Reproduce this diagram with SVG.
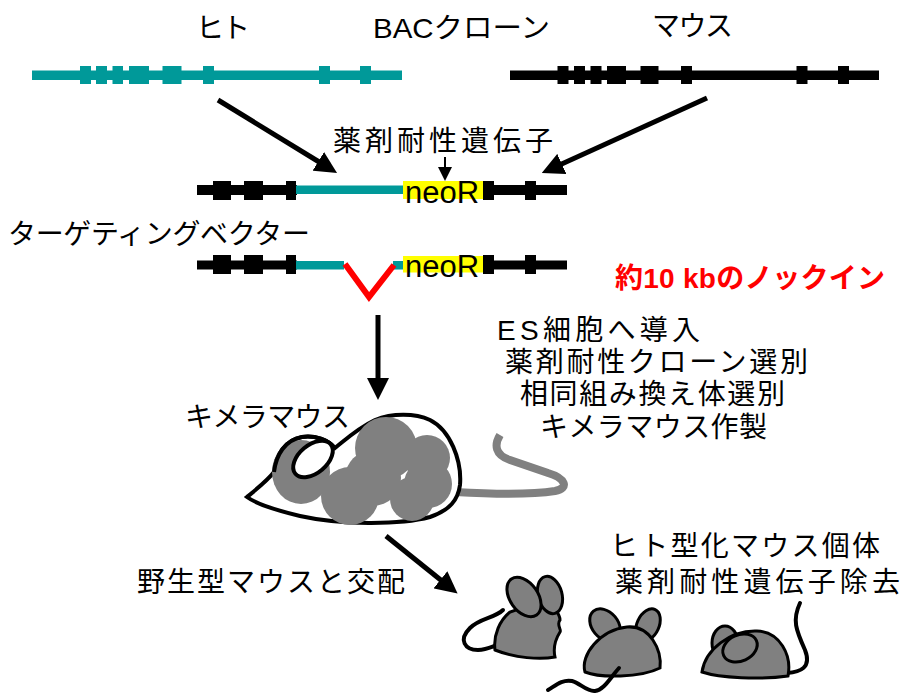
<svg xmlns="http://www.w3.org/2000/svg" width="902" height="696" viewBox="0 0 902 696">
  <defs>
    <style>
      .jp { font-family: "Liberation Sans", "Noto Sans CJK JP", sans-serif; font-size: 28px; fill: #000; }
      .neo { font-family: "Liberation Sans", Arial, sans-serif; font-size: 31px; fill: #000; }
      .red { font-family: "Liberation Sans", "Noto Sans CJK JP", sans-serif; font-size: 28px; font-weight: bold; fill: #ff0000; }
      .teal { fill: #009999; }
      .blk { fill: #000; }
      .arrow { stroke: #000; stroke-width: 5; fill: none; }
      .mouse { fill: #808080; stroke: #000; stroke-width: 3; }
      .tail { fill: none; stroke: #000; stroke-width: 4; stroke-linecap: round; }
    </style>
    <marker id="head" viewBox="0 0 22 22" markerWidth="22" markerHeight="22" refX="2" refY="11" orient="auto" markerUnits="userSpaceOnUse">
      <path d="M0,0 L22,11 L0,22 z" fill="#000"/>
    </marker>
    <marker id="headSmall" viewBox="0 0 16 14" markerWidth="16" markerHeight="14" refX="1" refY="7" orient="auto" markerUnits="userSpaceOnUse">
      <path d="M0,0 L14,7 L0,14 z" fill="#000"/>
    </marker>
  </defs>

  <rect width="902" height="696" fill="#fff"/>

  <!-- labels above the BAC clones -->
  <g id="label-human"><text class="jp" x="196" y="38" textLength="54">ヒト</text></g>
  <g id="label-bac"><text class="jp" x="373" y="38" textLength="177" lengthAdjust="spacingAndGlyphs">BACクローン</text></g>
  <g id="label-mouse"><text class="jp" x="652" y="36" textLength="81">マウス</text></g>

  <!-- human BAC clone -->
  <g id="human-bac" class="teal">
    <rect x="32" y="70.5" width="370" height="9.5"/>
    <rect x="80" y="66" width="11" height="18"/>
    <rect x="96" y="66" width="11" height="18"/>
    <rect x="112.5" y="66" width="10.5" height="18"/>
    <rect x="129" y="66" width="20" height="18"/>
    <rect x="162.5" y="66" width="19" height="18"/>
    <rect x="203" y="66" width="11" height="18"/>
    <rect x="319" y="66" width="11" height="18"/>
    <rect x="360" y="66" width="11" height="18"/>
  </g>

  <!-- mouse BAC clone -->
  <g id="mouse-bac" class="blk">
    <rect x="510" y="70.5" width="369" height="9.5"/>
    <rect x="557.5" y="66" width="11" height="18"/>
    <rect x="574" y="66" width="11" height="18"/>
    <rect x="590.5" y="66" width="11" height="18"/>
    <rect x="607" y="66" width="19" height="18"/>
    <rect x="640.5" y="66" width="18" height="18"/>
    <rect x="681" y="66" width="11" height="18"/>
    <rect x="796.5" y="66" width="11" height="18"/>
    <rect x="838" y="66" width="11" height="18"/>
  </g>

  <!-- drug resistance gene label -->
  <g id="label-resist"><text class="jp" x="333" y="151" textLength="220">薬剤耐性遺伝子</text></g>

  <!-- targeting vector before deletion -->
  <g id="vector-1">
    <rect class="blk" x="197" y="185" width="100" height="10"/>
    <rect class="blk" x="403" y="185" width="164" height="10"/>
    <rect class="teal" x="296" y="185.5" width="107" height="8.5"/>
    <rect class="blk" x="213" y="181" width="18" height="19"/>
    <rect class="blk" x="244" y="181" width="19" height="19"/>
    <rect class="blk" x="286" y="181" width="10" height="19"/>
    <rect class="blk" x="483" y="181" width="11" height="19"/>
    <rect class="blk" x="525" y="181" width="11" height="19"/>
    <rect x="403" y="181" width="80" height="18" fill="#ffff00"/>
    <text class="neo" x="405" y="203">neoR</text>
  </g>

  <g id="label-targeting"><text class="jp" x="8" y="244" textLength="302">ターゲティングベクター</text></g>

  <!-- targeting vector with deleted region -->
  <g id="vector-2">
    <rect class="blk" x="197" y="260.5" width="100" height="9"/>
    <rect class="blk" x="403" y="260.5" width="164" height="9"/>
    <rect class="teal" x="296" y="261" width="48" height="8.5"/>
    <rect class="teal" x="393" y="261" width="10" height="8.5"/>
    <rect class="blk" x="213" y="255" width="18" height="19"/>
    <rect class="blk" x="244" y="255" width="19" height="19"/>
    <rect class="blk" x="286" y="255" width="10" height="19"/>
    <rect class="blk" x="483" y="255" width="11" height="19"/>
    <rect class="blk" x="525" y="255" width="11" height="19"/>
    <rect x="403" y="256" width="80" height="16.5" fill="#ffff00"/>
    <text class="neo" x="405" y="277">neoR</text>
    <path d="M345,264 L369,297 L394,265" fill="none" stroke="#ff0000" stroke-width="6"/>
  </g>

  <g id="label-knockin"><text class="red" x="615" y="288" textLength="270">約10 kbのノックイン</text></g>

  <!-- procedure steps -->
  <g id="label-steps">
    <text class="jp" x="497" y="340" textLength="203">ES細胞へ導入</text>
    <text class="jp" x="505" y="372" textLength="303">薬剤耐性クローン選別</text>
    <text class="jp" x="520" y="404" textLength="265">相同組み換え体選別</text>
    <text class="jp" x="540" y="437" textLength="227">キメラマウス作製</text>
  </g>

  <g id="label-chimera"><text class="jp" x="185" y="427" textLength="165">キメラマウス</text></g>

  <!-- chimeric mouse -->
  <g id="chimera">
    <path d="M455,492 C490,494 530,495 555,491 C570,488 565,478 548,473 L510,460 C495,455 494,445 500,435" fill="none" stroke="#808080" stroke-width="8"/>
    <path d="M247,497 C258,488 268,480 274,472 C276,455 285,440 302,437 C315,435 328,440 335,448 C345,440 358,428 375,420 C392,413 415,413 430,420 C450,430 462,460 460,485 C458,500 450,510 430,517 C400,525 340,525 300,516 C275,510 255,503 247,497 Z" fill="#fff" stroke="#000" stroke-width="4"/>
    <g fill="#808080">
      <ellipse cx="301" cy="472" rx="29" ry="32"/>
      <circle cx="386" cy="448" r="31"/>
      <circle cx="427" cy="458" r="23"/>
      <circle cx="428" cy="484" r="24"/>
      <circle cx="412" cy="499" r="22"/>
      <circle cx="350" cy="496" r="29"/>
      <circle cx="373" cy="478" r="28"/>
    </g>
    <path d="M274,472 C276,455 285,440 302,437 C315,435 328,440 335,448" fill="none" stroke="#000" stroke-width="4"/>
    <ellipse cx="313" cy="459" rx="23" ry="14" transform="rotate(-40 313 459)" fill="#fff" stroke="#000" stroke-width="4"/>
  </g>

  <g id="label-cross"><text class="jp" x="137" y="592" textLength="268">野生型マウスと交配</text></g>
  <g id="label-humanized">
    <text class="jp" x="610" y="556" textLength="270">ヒト型化マウス個体</text>
    <text class="jp" x="615" y="592" textLength="285">薬剤耐性遺伝子除去</text>
  </g>

  <!-- offspring mice -->
  <g id="mouse-1">
    <path class="tail" d="M503,610 C495,618 480,618 470,628 C458,640 465,650 478,650 C488,650 495,645 498,645"/>
    <path class="mouse" d="M495,650 C493,635 500,620 510,612 L545,600 C555,608 560,615 560,620 C556,625 562,630 560,632 C555,640 553,648 555,657 C540,660 515,658 495,650 Z"/>
    <ellipse class="mouse" cx="550" cy="595" rx="12" ry="19" transform="rotate(-15 550 595)"/>
    <ellipse class="mouse" cx="524" cy="597" rx="14" ry="22" transform="rotate(-35 524 597)"/>
  </g>

  <g id="mouse-2">
    <ellipse class="mouse" cx="605" cy="625" rx="13" ry="18" transform="rotate(-40 605 625)"/>
    <ellipse class="mouse" cx="648" cy="625" rx="11" ry="17" transform="rotate(25 648 625)"/>
    <path class="mouse" d="M585,672 C580,655 600,630 627,627 C650,625 662,650 660,668 C640,678 600,678 585,672 Z"/>
    <path class="tail" d="M619,668 C610,678 604,690 595,691 C587,692 580,683 572,681 C562,679 555,686 548,690"/>
  </g>

  <g id="mouse-3">
    <path class="tail" d="M787,673 C800,672 812,668 805,650 C796,630 792,620 800,603"/>
    <ellipse class="mouse" cx="725" cy="643" rx="13" ry="17"/>
    <path class="mouse" d="M702,672 C705,650 730,630 757,631 C780,632 792,655 788,676 C760,680 720,678 702,672 Z"/>
    <ellipse class="mouse" cx="740" cy="648" rx="18" ry="13" transform="rotate(-25 740 648)"/>
  </g>

  <!-- connectors -->
  <g id="connectors">
    <line class="arrow" x1="218" y1="100" x2="320" y2="162.5" marker-end="url(#head)"/>
    <line class="arrow" x1="707" y1="98" x2="560" y2="164.7" marker-end="url(#head)"/>
    <line x1="445" y1="157" x2="445" y2="168" stroke="#000" stroke-width="2" marker-end="url(#headSmall)"/>
    <line class="arrow" x1="378" y1="315" x2="378" y2="380" marker-end="url(#head)"/>
    <line class="arrow" x1="386" y1="536" x2="442" y2="581" marker-end="url(#head)"/>
  </g>
</svg>
